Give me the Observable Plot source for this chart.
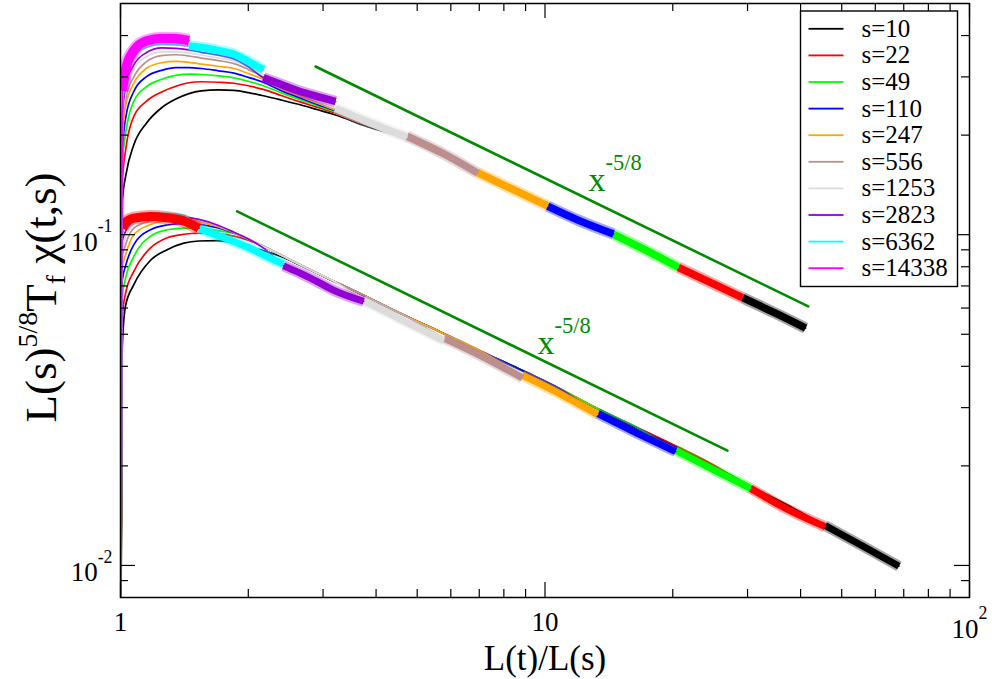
<!DOCTYPE html>
<html><head><meta charset="utf-8">
<script src="https://cdn.jsdelivr.net/npm/d3@7"></script>
<script src="https://cdn.jsdelivr.net/npm/@observablehq/plot@0.6"></script>
<style>body{margin:0;background:#fff} svg text{font-family:'Liberation Serif','Times New Roman',serif}</style>
</head><body><div id="chart"></div>
<script>
// ---------- data ----------
const sizes = [10, 22, 49, 110, 247, 556, 1253, 2823, 6362, 14338];
const legendLabels = sizes.map(s => "s=" + s);
const upperColors = ["#000000","#ff0000","#00ff00","#0000ff","#ffa500","#bc8f8f","#dcdcdc","#9400d3","#00ffff","#ff00ff"];
const lowerColors = ["#000000","#ff0000","#00ff00","#0000ff","#ffa500","#bc8f8f","#dcdcdc","#9400d3","#00ffff","#ff0000"];

// upper family (shared x grid, each series truncated at its own end)
const upperX = [1.0, 1.01, 1.03, 1.075, 1.15, 1.25, 1.35, 1.45, 1.55, 1.7, 1.85, 2.0, 2.17, 2.4, 2.65, 2.9, 3.21, 3.8, 4.73, 5.8, 6.94, 8.4, 10.14, 12, 14.5, 17.3, 20.6, 24.5, 29.2, 35, 41.1];
const upperS10    = [0.003, 0.126, 0.152, 0.187, 0.217, 0.242, 0.257, 0.267, 0.272, 0.274, 0.273, 0.269, 0.263, 0.255, 0.247, 0.239, 0.230, 0.2125, 0.195, 0.172, 0.153, 0.136, 0.1215, 0.110, 0.100, 0.0895, 0.0795, 0.0715, 0.0645, 0.0578, 0.0522];
const upperS22    = [0.003, 0.145, 0.183, 0.228, 0.253, 0.270, 0.281, 0.288, 0.290, 0.289, 0.287, 0.282, 0.275, 0.263, 0.252, 0.243, 0.233, 0.215, 0.1965, 0.173, 0.1535, 0.1365, 0.1218, 0.1102, 0.1003, 0.0897, 0.0797, 0.0717, 0.0645];
const upperS49    = [0.003, 0.163, 0.205, 0.253, 0.280, 0.295, 0.303, 0.306, 0.305, 0.302, 0.298, 0.291, 0.282, 0.268, 0.256, 0.246, 0.235, 0.217, 0.197, 0.1735, 0.1535, 0.1365, 0.1218, 0.1103, 0.1003, 0.0897, 0.0797];
const upperS110   = [0.003, 0.179, 0.228, 0.271, 0.300, 0.314, 0.320, 0.320, 0.318, 0.313, 0.308, 0.299, 0.289, 0.272, 0.259, 0.248, 0.237, 0.218, 0.1975, 0.174, 0.1538, 0.1368, 0.1220, 0.1105, 0.1005];
const upperS247   = [0.003, 0.197, 0.247, 0.287, 0.318, 0.331, 0.334, 0.332, 0.328, 0.323, 0.318, 0.307, 0.295, 0.276, 0.262, 0.250, 0.238, 0.219, 0.198, 0.1745, 0.154, 0.137, 0.1222];
const upperS556   = [0.003, 0.210, 0.259, 0.300, 0.333, 0.348, 0.350, 0.347, 0.342, 0.336, 0.329, 0.316, 0.300, 0.280, 0.265, 0.252, 0.240, 0.220, 0.1985, 0.175, 0.1535];
const upperS1253  = [0.003, 0.222, 0.271, 0.316, 0.345, 0.357, 0.357, 0.354, 0.349, 0.342, 0.335, 0.322, 0.305, 0.284, 0.268, 0.254, 0.241, 0.220, 0.197];
const upperS2823  = [0.003, 0.230, 0.284, 0.326, 0.355, 0.367, 0.366, 0.362, 0.356, 0.349, 0.340, 0.322, 0.298, 0.284, 0.271, 0.262, 0.2527];
const upperS6362  = [0.003, 0.241, 0.297, 0.342, 0.368, 0.376, 0.375, 0.372, 0.368, 0.360, 0.351, 0.334, 0.315];
const upperS14338 = [0.003, 0.272, 0.318, 0.360, 0.385, 0.392, 0.391, 0.386];
const upperSeries = [upperS10, upperS22, upperS49, upperS110, upperS247, upperS556, upperS1253, upperS2823, upperS6362, upperS14338];
const upperNoisyFrom = [29.2, 20.6, 14.5, 10.14, 6.94, 4.73, 3.21, 2.17, 1.45, 1.01];

// lower family
const lowerX = [1.0, 1.009, 1.028, 1.075, 1.177, 1.288, 1.41, 1.53, 1.69, 1.85, 2.0, 2.2, 2.42, 2.65, 2.9, 3.2, 3.74, 4.6, 5.77, 7.1, 8.84, 10.9, 13.3, 16.5, 20.3, 25, 30.5, 37, 45.7, 56, 68.2];
const lowerS10    = [0.003, 0.045, 0.061, 0.0706, 0.0837, 0.0901, 0.0943, 0.0957, 0.0959, 0.0943, 0.0920, 0.0890, 0.0853, 0.0808, 0.0764, 0.0720, 0.0655, 0.0575, 0.0502, 0.0442, 0.0388, 0.0340, 0.0297, 0.0260, 0.0229, 0.0200, 0.0174, 0.0153, 0.0132, 0.01145, 0.00995];
const lowerS22    = [0.003, 0.056, 0.0665, 0.0775, 0.0912, 0.0979, 0.1003, 0.1010, 0.1006, 0.0990, 0.0962, 0.0915, 0.0860, 0.0811, 0.0766, 0.0721, 0.0656, 0.0576, 0.0503, 0.0443, 0.0389, 0.0341, 0.0298, 0.0261, 0.0230, 0.0201, 0.0171, 0.01485, 0.0131];
const lowerS49    = [0.003, 0.0645, 0.074, 0.086, 0.099, 0.1035, 0.1047, 0.1045, 0.1030, 0.1008, 0.0970, 0.0915, 0.0860, 0.0811, 0.0766, 0.0721, 0.0656, 0.0576, 0.0503, 0.0443, 0.0389, 0.0341, 0.0298, 0.0261, 0.0223, 0.01945, 0.0171];
const lowerS110   = [0.003, 0.0725, 0.0805, 0.0933, 0.1035, 0.1070, 0.1080, 0.1075, 0.1050, 0.1012, 0.0970, 0.0914, 0.0860, 0.0811, 0.0766, 0.0721, 0.0656, 0.0576, 0.0503, 0.0443, 0.0389, 0.0341, 0.0288, 0.0251, 0.0221];
const lowerS247   = [0.003, 0.0793, 0.087, 0.100, 0.1073, 0.1100, 0.1100, 0.1090, 0.1060, 0.1014, 0.0970, 0.0914, 0.0860, 0.0811, 0.0766, 0.0721, 0.0656, 0.0576, 0.0503, 0.0443, 0.0376, 0.0329, 0.0286];
const lowerS556   = [0.003, 0.085, 0.0933, 0.1047, 0.1100, 0.1120, 0.1115, 0.1100, 0.1065, 0.1015, 0.0970, 0.0914, 0.0860, 0.0811, 0.0766, 0.0721, 0.0656, 0.0576, 0.0487, 0.0429, 0.0369];
const lowerS1253  = [0.003, 0.090, 0.098, 0.1078, 0.1122, 0.1134, 0.1125, 0.1108, 0.1068, 0.1016, 0.0970, 0.0914, 0.0860, 0.0811, 0.0766, 0.0721, 0.0632, 0.0553, 0.0478];
const lowerS2823  = [0.003, 0.0954, 0.1023, 0.1100, 0.1143, 0.1145, 0.1132, 0.1112, 0.1070, 0.1017, 0.0971, 0.0900, 0.0805, 0.0765, 0.0722, 0.0676, 0.0629];
const lowerS6362  = [0.003, 0.100, 0.106, 0.1122, 0.1160, 0.1160, 0.1145, 0.1045, 0.0995, 0.0954, 0.0915, 0.0862, 0.0815];
const lowerS14338 = [0.003, 0.1047, 0.1090, 0.1122, 0.1135, 0.1125, 0.1100, 0.1045];
const lowerSeries = [lowerS10, lowerS22, lowerS49, lowerS110, lowerS247, lowerS556, lowerS1253, lowerS2823, lowerS6362, lowerS14338];
const lowerNoisyFrom = [45.7, 30.5, 20.3, 13.3, 8.84, 5.77, 3.74, 2.42, 1.53, 1.009];

// x^(-5/8) guide lines and their labels
const guideUpperX = [2.88, 41.7], guideUpperY = [0.3225, 0.0607];
const guideLowerX = [1.883, 26.9], guideLowerY = [0.1176, 0.02225];
const slopeLabelX = [12.66, 9.60], slopeLabelY = [0.1352, 0.0435];
const slopeLabelText = "x^{-5/8}";

// ticks
const xMajorTicks = [1, 10, 100];
const xMinorTicks = [2,3,4,5,6,7,8,9,20,30,40,50,60,70,80,90];
const yMajorTicks = [0.01, 0.1];
const yMinorTicks = [0.009,0.02,0.03,0.04,0.05,0.06,0.07,0.08,0.09,0.2,0.3,0.4];
const xTickLabels = ["1", "10", "10^{2}"];
const yTickLabels = ["10^{-2}", "10^{-1}"];
const xTitle = "L(t)/L(s)";
const yTitle = "L(s)^{5/8}T_{f} χ(t,s)";

// ---------- layout ----------
const W = 992, H = 679, mL = 120, mR = 23, mT = 3, mB = 82;
const fw = W - mL - mR, fh = H - mT - mB;
const GREEN = "#008b00";
const SERIF = "'Liberation Serif', 'Times New Roman', serif";

const marks = [];
function addFamily(X, series, colors, noisyFrom, bandW, lastW) {
  series.forEach((ys, k) => {
    const pts = ys.map((y, i) => ({x: X[i], y}));
    marks.push(Plot.line(pts, {x: "x", y: "y", stroke: colors[k], strokeWidth: 1.7, curve: "monotone-x", clip: true}));
    const band = pts.filter(p => p.x >= noisyFrom[k] - 1e-9);
    const w = k === 9 ? lastW : bandW;
    marks.push(Plot.line(band, {x: "x", y: "y", stroke: colors[k], strokeWidth: w + 4, strokeOpacity: 0.35,
      strokeLinecap: "butt", curve: "monotone-x", clip: true}));
    marks.push(Plot.line(band, {x: "x", y: "y", stroke: colors[k], strokeWidth: w,
      strokeLinecap: "butt", curve: "monotone-x", clip: true}));
  });
}
addFamily(lowerX, lowerSeries, lowerColors, lowerNoisyFrom, 7, 9);
addFamily(upperX, upperSeries, upperColors, upperNoisyFrom, 7.5, 9.5);

// guide lines
marks.push(Plot.line(guideUpperX.map((x, i) => ({x, y: guideUpperY[i]})), {x: "x", y: "y", stroke: GREEN, strokeWidth: 2.6}));
marks.push(Plot.line(guideLowerX.map((x, i) => ({x, y: guideLowerY[i]})), {x: "x", y: "y", stroke: GREEN, strokeWidth: 2.6}));
marks.push(Plot.text(slopeLabelX.map((x, i) => ({x, y: slopeLabelY[i]})), {x: "x", y: "y", text: () => slopeLabelText,
  textAnchor: "start", lineAnchor: "bottom", fontSize: 34, fontFamily: SERIF, fill: GREEN}));

// ticks (inward, on all four sides)
const tk = {stroke: "black", strokeWidth: 1.2};
marks.push(Plot.tickX(xMinorTicks, {x: d => d, insetTop: fh - 8, ...tk}));
marks.push(Plot.tickX(xMinorTicks, {x: d => d, insetBottom: fh - 8, ...tk}));
marks.push(Plot.tickX(xMajorTicks, {x: d => d, insetTop: fh - 15, ...tk}));
marks.push(Plot.tickX(xMajorTicks, {x: d => d, insetBottom: fh - 15, ...tk}));
marks.push(Plot.tickY(yMinorTicks, {y: d => d, insetRight: fw - 8, ...tk}));
marks.push(Plot.tickY(yMinorTicks, {y: d => d, insetLeft: fw - 8, ...tk}));
marks.push(Plot.tickY(yMajorTicks, {y: d => d, insetRight: fw - 15, ...tk}));
marks.push(Plot.tickY(yMajorTicks, {y: d => d, insetLeft: fw - 15, ...tk}));

// tick labels
marks.push(Plot.text(xMajorTicks.slice(0, 2), {x: d => d, text: (d, i) => xTickLabels[i], frameAnchor: "bottom",
  dy: 33, lineAnchor: "bottom", fontSize: 27, fontFamily: SERIF}));
marks.push(Plot.text(xMajorTicks.slice(2), {x: d => d, text: () => xTickLabels[2], frameAnchor: "bottom",
  dy: 40, lineAnchor: "bottom", fontSize: 27, fontFamily: SERIF}));
marks.push(Plot.text(yMajorTicks, {y: d => d, text: (d, i) => yTickLabels[i], frameAnchor: "left",
  dx: -8, dy: 16, textAnchor: "end", lineAnchor: "bottom", fontSize: 27, fontFamily: SERIF}));

// axis titles
marks.push(Plot.text([xTitle], {text: d => d, frameAnchor: "bottom", dy: 72, lineAnchor: "bottom", fontSize: 35, fontFamily: SERIF}));
marks.push(Plot.text([yTitle], {text: d => d, frameAnchor: "left", dx: -65, dy: -3, rotate: -90, textAnchor: "middle",
  lineAnchor: "bottom", fontSize: 45, fontFamily: SERIF}));

// legend
const lgLeft = 800, lgRight = 957, lgTop = 10.5, lgBottom = 286, row0 = 28.3, rowStep = 26.6;
marks.push(Plot.frame({fill: "white", stroke: "black", strokeWidth: 1.4,
  insetLeft: lgLeft - mL, insetRight: (W - mR) - lgRight, insetTop: lgTop - mT, insetBottom: (H - mB) - lgBottom}));
legendLabels.forEach((lab, i) => {
  const ry = row0 + i * rowStep;
  marks.push(Plot.frame({fill: upperColors[i], stroke: "none",
    insetLeft: 808 - mL, insetRight: (W - mR) - 843, insetTop: ry - 0.9 - mT, insetBottom: (H - mB) - (ry + 0.9)}));
  marks.push(Plot.text([lab], {text: d => d, frameAnchor: "top-left", dx: 861 - mL, dy: ry - mT,
    textAnchor: "start", lineAnchor: "middle", fontSize: 25, fontFamily: SERIF}));
});

marks.push(Plot.frame({stroke: "black", strokeWidth: 1.5}));

const svg = Plot.plot({
  width: W, height: H,
  marginLeft: mL, marginRight: mR, marginTop: mT, marginBottom: mB,
  style: {fontFamily: SERIF, background: "white", color: "black"},
  x: {type: "log", domain: [1, 100], axis: null},
  y: {type: "log", domain: [0.008, 0.5], axis: null},
  marks
});
document.getElementById("chart").append(svg);

// turn ^{..} and _{..} into real super/subscript tspans
function richify(root) {
  const NS = "http://www.w3.org/2000/svg";
  root.querySelectorAll("text").forEach(t => {
    const s = t.textContent;
    if (!/[\^_]\{/.test(s)) return;
    const sup = s.startsWith("x^") ? 0.62 : s.startsWith("L(s)") ? 0.42 : 0.7;
    const sub = 0.22, k = s.startsWith("L(s)") ? 0.62 : 0.66;
    const parts = s.match(/\^\{[^}]*\}|_\{[^}]*\}|[^\^_]+/g);
    t.textContent = "";
    let off = 0;
    for (const p of parts) {
      const ts = document.createElementNS(NS, "tspan");
      let target = 0, small = false, str = p;
      if (p.startsWith("^{")) { target = sup; small = true; str = p.slice(2, -1); }
      else if (p.startsWith("_{")) { target = -sub; small = true; str = p.slice(2, -1); }
      ts.textContent = str;
      if (small) ts.setAttribute("font-size", (k * 100) + "%");
      const delta = target - off;
      if (delta) ts.setAttribute("dy", (-delta / (small ? k : 1)).toFixed(3) + "em");
      off = target;
      t.appendChild(ts);
    }
  });
}
richify(svg);
</script>
</body></html>
